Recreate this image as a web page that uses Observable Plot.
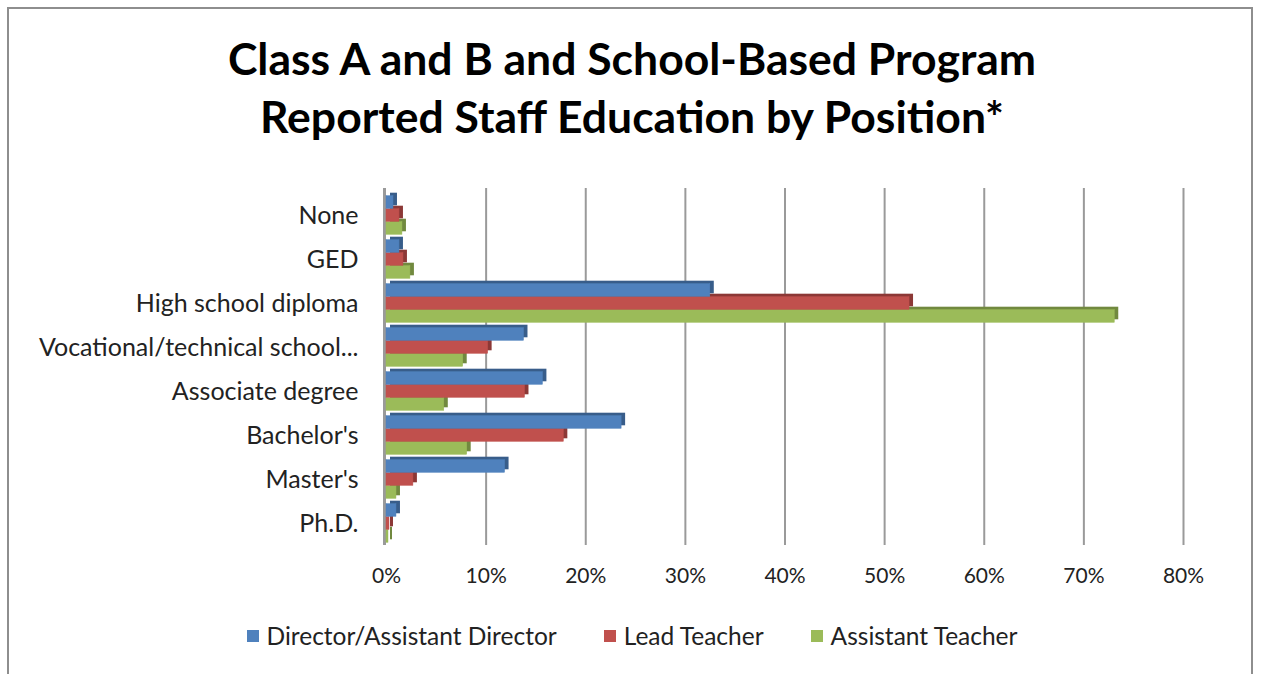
<!DOCTYPE html>
<html>
<head>
<meta charset="utf-8">
<script src="https://cdn.jsdelivr.net/npm/d3@7"></script>
<script src="https://cdn.jsdelivr.net/npm/@observablehq/plot@0.6"></script>
<style>
  html, body { margin: 0; padding: 0; background: #fff; width: 1264px; height: 674px; overflow: hidden; }
  #frame { position: absolute; left: 7px; top: 7px; width: 1246px; height: 700px; border: 2px solid #8e8e8e; box-sizing: border-box; }
  #title { position: absolute; left: 0; top: 29px; width: 1264px; text-align: center; font-family: Lato, sans-serif; font-weight: bold; font-size: 44.5px; line-height: 58px; color: #000; padding-left: 0px; box-sizing: border-box; }
  #chart { position: absolute; left: 0; top: 170px; }
  #legend { position: absolute; left: 0; top: 621px; width: 1264px; display: flex; justify-content: center; gap: 47px; font-family: Lato, sans-serif; font-size: 24.5px; color: #222; padding-right: 0px; box-sizing: border-box; }
  .item { display: flex; align-items: center; gap: 8px; }
  .sw { width: 12px; height: 12px; display: inline-block; }
</style>
</head>
<body>
<div id="frame"></div>
<div id="title">Class A and B and School-Based Program<br>Reported Staff Education by Position*</div>
<div id="chart"></div>
<div id="legend"></div>
<script>
const categories = ["None", "GED", "High school diploma", "Vocational/technical school...", "Associate degree", "Bachelor's", "Master's", "Ph.D."];
const seriesNames = ["Director/Assistant Director", "Lead Teacher", "Assistant Teacher"];
const director  = [0.007, 0.013, 0.325, 0.138, 0.157, 0.236, 0.119, 0.010];
const lead      = [0.013, 0.017, 0.525, 0.102, 0.139, 0.178, 0.027, 0.003];
const assistant = [0.016, 0.024, 0.731, 0.077, 0.058, 0.081, 0.010, 0.002];
const xTicks = [0, 0.1, 0.2, 0.3, 0.4, 0.5, 0.6, 0.7, 0.8];

const colors = ["#4F81BD", "#C0504D", "#9BBB59"];
const darks  = ["#385D8A", "#8C3836", "#71893F"];
const valuesBySeries = [director, lead, assistant];
const offsets = [-13, 0, 13];

const rows = valuesBySeries.map(vals => categories.map((c, i) => ({category: c, value: vals[i]})));

const barMarks = [];
// draw bottom series first so upper bars overlap their depth faces
for (let s = 2; s >= 0; s--) {
  const common = {y: "category", x: "value", insetTop: 15.7, insetBottom: 15.7};
  barMarks.push(Plot.barX(rows[s], {...common, fill: darks[s], dx: 4, dy: offsets[s] - 3}));
  barMarks.push(Plot.barX(rows[s], {...common, fill: colors[s], dy: offsets[s], stroke: colors[s], strokeWidth: 0.5}));
}

const chart = Plot.plot({
  width: 1264,
  height: 430,
  marginLeft: 386,
  marginRight: 81,
  marginTop: 22,
  marginBottom: 55,
  style: {fontFamily: "Lato, sans-serif", fontSize: "21px", color: "#222", background: "transparent"},
  x: {domain: [0, 0.8], ticks: xTicks, tickFormat: d3.format(".0%"), label: null},
  y: {domain: categories, padding: 0, label: null},
  marks: [
    Plot.ruleX(xTicks.slice(1), {stroke: "#9a9a9a", strokeWidth: 2, insetTop: -4}),
    Plot.ruleX([0], {stroke: "#9a9a9a", strokeWidth: 3, dx: -2, insetTop: -4}),
    Plot.axisX({ticks: xTicks, tickFormat: d3.format(".0%"), tickSize: 0, tickPadding: 23, fontSize: 21, label: null}),
    Plot.axisY({tickSize: 0, tickPadding: 28, fontSize: 25, label: null}),
    ...barMarks
  ]
});
document.getElementById("chart").appendChild(chart);

const legend = document.getElementById("legend");
seriesNames.forEach((name, i) => {
  const it = document.createElement("div");
  it.className = "item";
  const sw = document.createElement("span");
  sw.className = "sw";
  sw.style.background = colors[i];
  const tx = document.createElement("span");
  tx.textContent = name;
  it.appendChild(sw);
  it.appendChild(tx);
  legend.appendChild(it);
});
</script>
</body>
</html>
